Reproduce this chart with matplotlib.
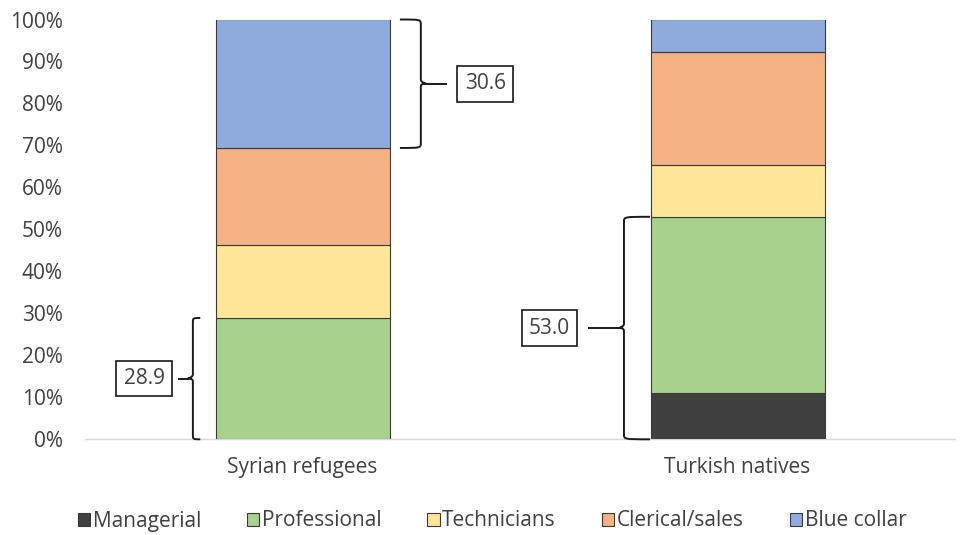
import matplotlib
matplotlib.use("Agg")
import matplotlib.pyplot as plt
from matplotlib.path import Path
from matplotlib.patches import PathPatch, Patch
from matplotlib.ticker import PercentFormatter

plt.rcParams['font.family'] = ['Open Sans', 'DejaVu Sans']

categories = ["Syrian refugees", "Turkish natives"]
series = ["Managerial", "Professional", "Technicians", "Clerical/sales", "Blue collar"]
managerial = [0.0, 11.0]
professional = [28.9, 42.0]
technicians = [17.5, 12.4]
clerical = [23.0, 26.9]
blue_collar = [30.6, 7.7]
colors = ["#404040", "#A9D18E", "#FFE699", "#F4B183", "#8FAADC"]
yticks = [0, 10, 20, 30, 40, 50, 60, 70, 80, 90, 100]

values = [managerial, professional, technicians, clerical, blue_collar]
text_col = "#404040"
fs = 15

fig = plt.figure(figsize=(9.61, 5.35), dpi=100)
ax = fig.add_axes([85/961, (535-439.3)/535, 870/961, 419.8/535])

x = list(range(len(categories)))
bottoms = [0.0] * len(categories)
for name, vals, c in zip(series, values, colors):
    ax.bar(x, vals, width=0.4, bottom=bottoms, color=c, edgecolor="#3a3a3a",
           linewidth=0.8, label=name, zorder=2)
    bottoms = [b + v for b, v in zip(bottoms, vals)]

ax.set_xlim(-0.5, 1.5)
ax.set_ylim(0, 100)
ax.set_yticks(yticks)
ax.yaxis.set_major_formatter(PercentFormatter(decimals=0))
ax.set_xticks(x)
ax.set_xticklabels(categories)
ax.tick_params(axis='y', length=0, pad=16, labelsize=fs, labelcolor=text_col)
ax.tick_params(axis='x', length=0, pad=13, labelsize=fs, labelcolor=text_col)
for s in ["top", "right", "left"]:
    ax.spines[s].set_visible(False)
ax.spines["bottom"].set_color("#D9D9D9")
ax.spines["bottom"].set_linewidth(1.0)
ax.spines["bottom"].set_zorder(1)


def brace(ax, x_end, x_v, x_line, y0, y1, label, x_box):
    # curly-ish bracket: ends at x_end, vertical at x_v, line to x_line, label box at x_box
    ym = (y0 + y1) / 2
    d = 1 if x_v > x_end else -1
    tip = x_v + d * 0.012
    verts = [
        (x_end, y1),
        (x_v, y1), (x_v, y1), (x_v, y1 - 1.2),
        (x_v, ym + 1.0),
        (x_v, ym + 0.3), (tip, ym), (tip, ym),
        (x_v, ym), (x_v, ym - 0.3), (x_v, ym - 1.0),
        (x_v, y0 + 1.2),
        (x_v, y0), (x_v, y0), (x_end, y0),
    ]
    codes = [Path.MOVETO,
             Path.CURVE4, Path.CURVE4, Path.CURVE4,
             Path.LINETO,
             Path.CURVE4, Path.CURVE4, Path.CURVE4,
             Path.CURVE4, Path.CURVE4, Path.CURVE4,
             Path.LINETO,
             Path.CURVE4, Path.CURVE4, Path.CURVE4]
    ax.add_patch(PathPatch(Path(verts, codes), facecolor="none", edgecolor="#1a1a1a",
                           linewidth=1.4, clip_on=False, zorder=3))
    ax.plot([tip, x_line], [ym, ym], color="#1a1a1a", linewidth=1.4,
            clip_on=False, zorder=3, solid_capstyle="butt")
    ax.text(x_box, ym, label, ha="center", va="center", fontsize=fs, color=text_col,
            bbox=dict(boxstyle="square,pad=0.35", facecolor="white", edgecolor="#1a1a1a",
                      linewidth=1.2), zorder=4)


# Syrian refugees: blue collar (top) and professional (bottom incl. managerial)
syr_top0 = 100 - blue_collar[0]
brace(ax, 0.224, 0.272, 0.332, syr_top0, 100, f"{blue_collar[0]:.1f}", 0.42)
syr_pm = managerial[0] + professional[0]
brace(ax, -0.235, -0.252, -0.286, 0, syr_pm, f"{syr_pm:.1f}", -0.364)
# Turkish natives: managerial + professional
tur_pm = managerial[1] + professional[1]
brace(ax, 0.799, 0.739, 0.656, 0, tur_pm, f"{tur_pm:.1f}", 0.568)

handles = [Patch(facecolor=c, edgecolor="#3a3a3a", linewidth=0.8, label=n)
           for n, c in zip(series, colors)]
fig.legend(handles=handles, loc="center", bbox_to_anchor=(0.512, 1 - 521/535), ncol=5,
           frameon=False, fontsize=fs, handlelength=0.6, handleheight=0.6,
           handletextpad=0.12, columnspacing=2.2, labelcolor=text_col)

fig.savefig("out.png", dpi=100)
